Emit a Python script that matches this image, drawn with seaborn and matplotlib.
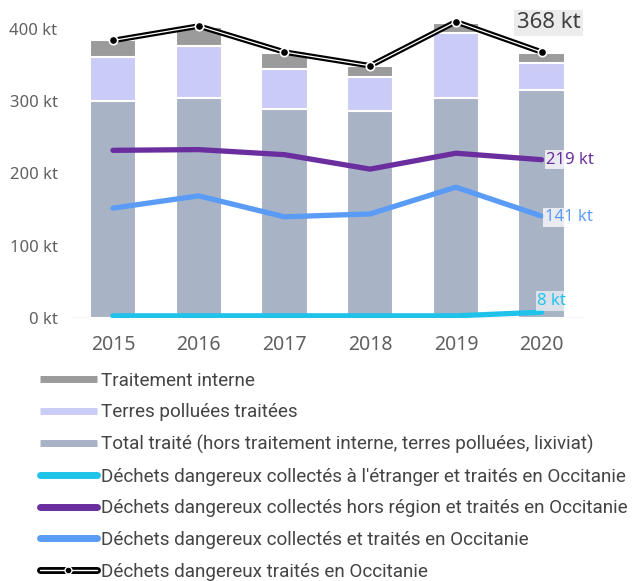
import numpy as np
import matplotlib
matplotlib.use("Agg")
import matplotlib.pyplot as plt
from matplotlib.lines import Line2D
from matplotlib.legend_handler import HandlerTuple
import pandas as pd
import seaborn as sns

# --- DATA (kt) ---
years = ["2015", "2016", "2017", "2018", "2019", "2020"]
total_traite = [300, 305, 289, 287, 304, 316]
terres_polluees = [61, 71, 55, 47, 91, 37]
traitement_interne = [24, 27, 23, 14, 13, 14]
traites_occitanie = [384, 404, 368, 349, 410, 368]
hors_region = [232, 233, 226, 206, 228, 219]
collectes_occitanie = [152, 169, 140, 144, 181, 141]
etranger = [3, 3, 3, 3, 3, 8]

# Colors
C_INTERNE = "#9b9b9b"
C_TERRES = "#cbcbf7"
C_TOTAL = "#a9b3c6"
C_ETRANGER = "#1fc3ea"
C_HORS = "#6a2e9f"
C_OCC = "#5a9cf5"
TICK_COLOR = "#606060"

sns.set_style("white")
plt.rcParams["font.family"] = ["Noto Sans", "DejaVu Sans"]

df = pd.DataFrame({
    "year": years,
    "base": total_traite,
    "terres": np.array(total_traite) + np.array(terres_polluees),
    "interne": np.array(total_traite) + np.array(terres_polluees) + np.array(traitement_interne),
})

fig = plt.figure(figsize=(6.43, 5.81), dpi=100)
ax = fig.add_axes([0.109, 0.4527, 0.80, 0.5224])

# stacked bars drawn as overlapping cumulative bars
for col, c in [("interne", C_INTERNE), ("terres", C_TERRES), ("base", C_TOTAL)]:
    sns.barplot(data=df, x="year", y=col, color=c, width=0.54, saturation=1,
                edgecolor="white", linewidth=1.5, errorbar=None, ax=ax)

# lines
def line(values, color, lw, **kw):
    sns.pointplot(x=years, y=values, color=color, markers="", linestyles="-",
                  lw=lw, errorbar=None, ax=ax, **kw)

line(etranger, C_ETRANGER, 3.8, solid_capstyle="round")
line(hors_region, C_HORS, 3.8, solid_capstyle="round")
line(collectes_occitanie, C_OCC, 3.8, solid_capstyle="round")
line(traites_occitanie, "black", 4.0)
line(traites_occitanie, "white", 0.9)
sns.pointplot(x=years, y=traites_occitanie, color="black", markers="o", linestyles="none",
              errorbar=None, ax=ax, markersize=6, markeredgecolor="white", markeredgewidth=1.2)

# end labels
ax.annotate(f"{traites_occitanie[-1]} kt", xy=(5, traites_occitanie[-1]), xytext=(5, 21),
            textcoords="offset points", ha="center", va="center", fontsize=16, color="#404040",
            bbox=dict(boxstyle="square,pad=0.12", fc="#ececec", ec="none"))
ax.annotate(f"{hors_region[-1]} kt", xy=(5, hors_region[-1]), xytext=(3.5, 0),
            textcoords="offset points", ha="left", va="center", fontsize=12, color=C_HORS,
            bbox=dict(boxstyle="square,pad=0.1", fc="white", ec="none", alpha=0.75))
ax.annotate(f"{collectes_occitanie[-1]} kt", xy=(5, collectes_occitanie[-1]), xytext=(2.5, -1),
            textcoords="offset points", ha="left", va="center", fontsize=12, color=C_OCC,
            bbox=dict(boxstyle="square,pad=0.1", fc="white", ec="none", alpha=0.75))
ax.annotate(f"{etranger[-1]} kt", xy=(5, etranger[-1]), xytext=(-3, 8),
            textcoords="offset points", ha="left", va="center", fontsize=12, color=C_ETRANGER,
            bbox=dict(boxstyle="square,pad=0.1", fc="white", ec="none", alpha=0.6))

ax.axhline(0, color="#d4d4d4", lw=1, zorder=0.5)
ax.set_xlim(-0.5, 5.5)
ax.set_ylim(0, 420)
ax.set_yticks([0, 100, 200, 300, 400])
ax.set_yticklabels([f"{v} kt" for v in [0, 100, 200, 300, 400]])
ax.tick_params(axis="y", length=0, pad=9, labelsize=12, labelcolor=TICK_COLOR)
ax.tick_params(axis="x", length=0, pad=12, labelsize=14, labelcolor=TICK_COLOR)
ax.set_xlabel("")
ax.set_ylabel("")
sns.despine(ax=ax, left=True, bottom=True)

# legend
h_interne = Line2D([], [], color=C_INTERNE, lw=5, solid_capstyle="butt")
h_terres = Line2D([], [], color=C_TERRES, lw=5, solid_capstyle="butt")
h_total = Line2D([], [], color=C_TOTAL, lw=5, solid_capstyle="butt")
h_etr = Line2D([], [], color=C_ETRANGER, lw=5, solid_capstyle="round")
h_hors = Line2D([], [], color=C_HORS, lw=5, solid_capstyle="round")
h_occ = Line2D([], [], color=C_OCC, lw=5, solid_capstyle="round")
h_black = (Line2D([], [], color="black", lw=5, solid_capstyle="round"),
           Line2D([], [], color="white", lw=1),
           Line2D([], [], color="black", marker="o", ls="none", markersize=5,
                  markeredgecolor="white", markeredgewidth=1))
handles = [h_interne, h_terres, h_total, h_etr, h_hors, h_occ, h_black]
labels = [
    "Traitement interne",
    "Terres polluées traitées",
    "Total traité (hors traitement interne, terres polluées, lixiviat)",
    "Déchets dangereux collectés à l'étranger et traités en Occitanie",
    "Déchets dangereux collectés hors région et traités en Occitanie",
    "Déchets dangereux collectés et traités en Occitanie",
    "Déchets dangereux traités en Occitanie",
]
fig.legend(handles, labels, loc="upper left", bbox_to_anchor=(0.062, 0.36),
           frameon=False, handlelength=3.0, handletextpad=0.25, labelspacing=0.72,
           borderpad=0, borderaxespad=0,
           prop={"family": ["Roboto", "DejaVu Sans"], "size": 13.6},
           labelcolor="#444444", handler_map={tuple: HandlerTuple(ndivide=1, pad=0)})

fig.savefig("out.png", dpi=100)
